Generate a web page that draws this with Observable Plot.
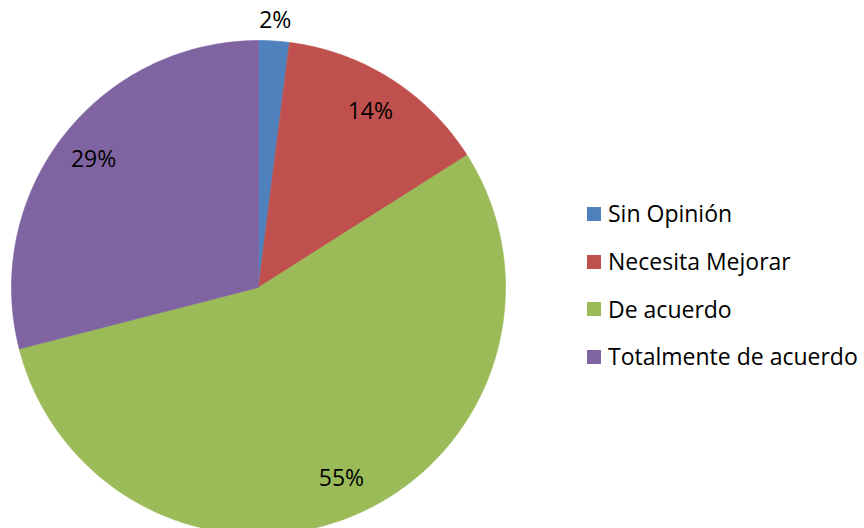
<!DOCTYPE html>
<html>
<head>
<meta charset="utf-8">
<script src="https://cdn.jsdelivr.net/npm/d3@7"></script>
<script src="https://cdn.jsdelivr.net/npm/@observablehq/plot@0.6"></script>
<style>
  html, body { margin: 0; padding: 0; background: #fff; }
  #wrap { position: relative; width: 864px; height: 528px; overflow: hidden; font-family: "Open Sans", sans-serif; }
  #legend { position: absolute; left: 587px; top: 190px; }
  .row { display: flex; align-items: center; height: 47.8px; line-height: 47.8px; font-size: 23px; color: #000; white-space: nowrap; }
  .sw { width: 14px; height: 14px; margin-right: 7px; flex: none; }
</style>
</head>
<body>
<div id="wrap"></div>
<script>
const categories = ["Sin Opinión", "Necesita Mejorar", "De acuerdo", "Totalmente de acuerdo"];
const values = [2, 14, 55, 29];
const labels = ["2%", "14%", "55%", "29%"];
const colors = ["#4F81BD", "#C0504D", "#9BBB59", "#8064A2"];

const arcs = d3.pie().sort(null).value(d => d)(values)
  .map((a, i) => ({...a, cat: categories[i], label: labels[i], mid: (a.startAngle + a.endAngle) / 2}));

// polygon outline of each slice (unit circle, data space)
const pts = [];
for (const a of arcs) {
  pts.push({cat: a.cat, x: 0, y: 0});
  const n = Math.max(2, Math.ceil((a.endAngle - a.startAngle) / 0.01));
  for (let k = 0; k <= n; k++) {
    const t = a.startAngle + (a.endAngle - a.startAngle) * k / n;
    pts.push({cat: a.cat, x: Math.sin(t), y: Math.cos(t)});
  }
  pts.push({cat: a.cat, x: 0, y: 0});
}

const lr = a => (a.value < 5 ? 1.083 : 0.845);

const chart = Plot.plot({
  width: 864,
  height: 528,
  margin: 0,
  style: {fontFamily: "Open Sans, sans-serif", background: "transparent"},
  x: {domain: [-1, 1], range: [11, 505], axis: null},
  y: {domain: [-1, 1], range: [534, 40], axis: null},
  color: {domain: categories, range: colors},
  marks: [
    Plot.line(pts, {x: "x", y: "y", z: "cat", fill: "cat", stroke: "cat", strokeWidth: 0.6, curve: "linear"}),
    Plot.text(arcs, {
      x: a => lr(a) * Math.sin(a.mid),
      y: a => lr(a) * Math.cos(a.mid),
      text: "label",
      fontSize: 23,
      fill: "#000",
      textAnchor: "middle",
      lineAnchor: "middle"
    })
  ]
});

const wrap = document.getElementById("wrap");
wrap.appendChild(chart);

const legend = document.createElement("div");
legend.id = "legend";
categories.forEach((c, i) => {
  const row = document.createElement("div");
  row.className = "row";
  const sw = document.createElement("span");
  sw.className = "sw";
  sw.style.background = colors[i];
  const tx = document.createElement("span");
  tx.textContent = c;
  row.appendChild(sw);
  row.appendChild(tx);
  legend.appendChild(row);
});
wrap.appendChild(legend);
</script>
</body>
</html>
